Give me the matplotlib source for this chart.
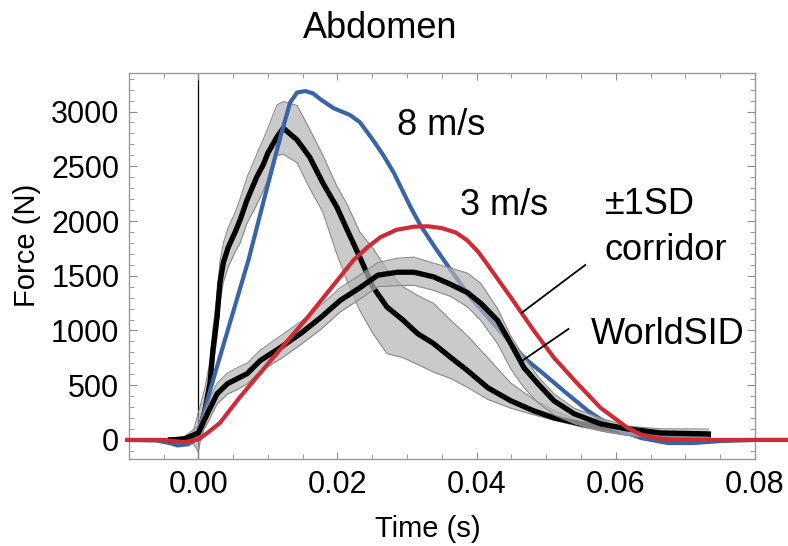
import numpy as np
import matplotlib
matplotlib.use('Agg')
import matplotlib.pyplot as plt
from matplotlib.ticker import MultipleLocator, FormatStrFormatter

plt.rcParams['font.family'] = ['Liberation Sans', 'DejaVu Sans']

# 8 m/s simulation (blue)
t_sim8 = [-0.0102, -0.006, -0.004, -0.003, -0.0015, -0.0005, 0.0005, 0.002, 0.0045, 0.0072,
          0.0095, 0.0118, 0.0132, 0.0142, 0.0154, 0.0165, 0.0176, 0.0194, 0.0218, 0.0232,
          0.0251, 0.0266, 0.0281, 0.0305, 0.0319, 0.034, 0.0363, 0.0391, 0.042, 0.0449,
          0.0472, 0.0496, 0.053, 0.056, 0.0597, 0.0636, 0.0675, 0.0712, 0.075, 0.08, 0.0849]
f_sim8 = [0, -5, -30, -50, -40, 0, 180, 520, 1060, 1642,
          2210, 2770, 3083, 3174, 3187, 3165, 3110, 3032, 2968, 2904,
          2740, 2600, 2440, 2128, 1963, 1760, 1550, 1303, 1092, 881,
          730, 605, 422, 266, 110, 18, -28, -28, -10, 0, 0]

# 3 m/s simulation (red)
t_sim3 = [-0.0102, -0.005, -0.002, 0.0, 0.0013, 0.0031, 0.006, 0.0104, 0.0157, 0.02,
          0.0223, 0.0243, 0.0262, 0.0285, 0.031, 0.033, 0.035, 0.037, 0.0386, 0.0402,
          0.0414, 0.0449, 0.0482, 0.0511, 0.0545, 0.0578, 0.0617, 0.0636, 0.0655, 0.068,
          0.072, 0.08, 0.0849]
f_sim3 = [0, 0, -20, 5, 64, 155, 393, 725, 1120, 1460,
          1642, 1760, 1853, 1920, 1948, 1952, 1935, 1895, 1826, 1720,
          1616, 1303, 1000, 752, 514, 294, 110, 50, 18, 3,
          0, 0, 0]

# 8 m/s test mean and +/-1SD corridor
t_test8 = [-0.004, -0.002, -0.0008, 0.0, 0.00024, 0.00096, 0.00168, 0.0021, 0.0027, 0.0031,
           0.0036, 0.0043, 0.0053, 0.006, 0.007, 0.0084, 0.0093, 0.0100, 0.0113, 0.0122,
           0.0142, 0.016, 0.0179, 0.0199, 0.0214, 0.0232, 0.0251, 0.0271, 0.0294, 0.0315,
           0.0338, 0.0363, 0.0387, 0.0416, 0.0449, 0.0482, 0.0511, 0.055, 0.0589, 0.0626,
           0.0665, 0.0704, 0.0733]
mean8 = [0, 5, 25, 70, 91, 274, 521, 822, 1123, 1434,
         1620, 1760, 1900, 2009, 2192, 2402, 2510, 2621, 2767, 2849,
         2740, 2584, 2347, 2128, 1918, 1671, 1397, 1215, 1096, 972,
         881, 752, 633, 477, 358, 266, 202, 147, 101, 64,
         55, 46, 46]
upper8 = [15, 25, 60, 250, 300, 480, 720, 1020, 1330, 1620,
          1800, 1940, 2080, 2200, 2400, 2610, 2740, 2850, 3060, 3092,
          3055, 2840, 2600, 2320, 2150, 1900, 1750, 1560, 1400, 1320,
          1248, 1092, 950, 750, 520, 370, 270, 170, 125, 90,
          75, 70, 65]
lower8 = [-15, -10, -20, -110, -20, 130, 360, 660, 940, 1250,
          1440, 1580, 1720, 1800, 1980, 2150, 2270, 2380, 2600, 2610,
          2532, 2300, 2080, 1700, 1450, 1183, 972, 789, 752, 690,
          620, 560, 480, 370, 290, 230, 180, 120, 70, 35,
          25, 20, 25]

# 3 m/s test mean and +/-1SD corridor
t_test3 = [-0.004, -0.002, 0.0, 0.0013, 0.0027, 0.0042, 0.0056, 0.007, 0.0089, 0.0118,
           0.0147, 0.0176, 0.0204, 0.0233, 0.0258, 0.0286, 0.031, 0.0338, 0.0363, 0.0387,
           0.0406, 0.043, 0.0449, 0.0468, 0.0488, 0.0511, 0.054, 0.0578, 0.0617, 0.0665,
           0.0733]
mean3 = [0, 10, 64, 239, 422, 514, 560, 605, 725, 844,
         972, 1119, 1275, 1394, 1505, 1532, 1532, 1490, 1420, 1345,
         1248, 1092, 881, 660, 514, 358, 239, 147, 101, 64,
         55]
upper3 = [15, 30, 130, 330, 520, 610, 660, 700, 820, 950,
          1080, 1230, 1390, 1510, 1620, 1660, 1670, 1615, 1570, 1523,
          1430, 1200, 950, 760, 580, 422, 290, 200, 125, 102,
          100]
lower3 = [-15, -5, 20, 150, 330, 420, 460, 510, 630, 740,
          870, 1010, 1170, 1290, 1400, 1410, 1413, 1367, 1310, 1215,
          1092, 880, 650, 477, 340, 230, 150, 83, 40, 20,
          18]

blue = '#3b64a6'
red = '#d12a37'
fill_col = '#b4b4b4'
edge_col = '#8a8a8a'

fig = plt.figure(figsize=(7.88, 5.46), dpi=100)
ax = fig.add_axes([129/788, 1-459/546, (755-129)/788, (459-73)/546])

# 8 m/s set
ax.fill_between(t_test8, lower8, upper8, color=fill_col, alpha=0.7, lw=0, zorder=2)
ax.plot(t_test8, upper8, color=edge_col, lw=0.8, zorder=2)
ax.plot(t_test8, lower8, color=edge_col, lw=0.8, zorder=2)
ax.plot(t_test8, mean8, color='black', lw=3.8, zorder=3, solid_joinstyle='round')
ax.plot(t_sim8, f_sim8, color=blue, lw=3, zorder=4, clip_on=False,
        solid_joinstyle='round')

# 3 m/s set
ax.fill_between(t_test3, lower3, upper3, color=fill_col, alpha=0.7, lw=0, zorder=5)
ax.plot(t_test3, upper3, color=edge_col, lw=0.8, zorder=5)
ax.plot(t_test3, lower3, color=edge_col, lw=0.8, zorder=5)
ax.plot(t_test3, mean3, color='black', lw=3.8, zorder=6, solid_joinstyle='round')
ax.plot(t_sim3, f_sim3, color=red, lw=3, zorder=7, clip_on=False,
        solid_joinstyle='round')

ax.axvline(0, color='black', lw=0.9, zorder=1)

# labels and pointer lines
ax.text(0.0286, 2790, '8 m/s', fontsize=26, va='baseline', ha='left')
ax.text(0.0376, 2055, '3 m/s', fontsize=26, va='baseline', ha='left')
ax.text(0.0584, 2064, '\u00b11SD', fontsize=26, va='baseline', ha='left')
ax.text(0.0584, 1642, 'corridor', fontsize=26, va='baseline', ha='left')
ax.text(0.0564, 881, 'WorldSID', fontsize=26, va='baseline', ha='left')
ax.plot([0.0556, 0.0465], [1598, 1163], color='black', lw=1.3, zorder=8)
ax.plot([0.0532, 0.0467], [1014, 730], color='black', lw=1.3, zorder=8)

ax.set_xlim(-0.00996, 0.08)
ax.set_ylim(-174, 3352)
ax.xaxis.set_major_locator(MultipleLocator(0.02))
ax.xaxis.set_minor_locator(MultipleLocator(0.005))
ax.yaxis.set_major_locator(MultipleLocator(500))
ax.yaxis.set_minor_locator(MultipleLocator(100))
ax.xaxis.set_major_formatter(FormatStrFormatter('%.2f'))
ax.tick_params(which='both', direction='in', top=True, right=True,
               color='#8c8c8c', labelsize=22, labelcolor='black')
ax.tick_params(axis='y', which='major', length=6, pad=7)
ax.tick_params(axis='x', which='major', length=5, pad=8)
ax.tick_params(which='minor', length=3.5)
for s in ax.spines.values():
    s.set_color('#9a9a9a')
    s.set_linewidth(1.0)

fig.text(380/788, 1-38/546, 'Abdomen', fontsize=26, ha='center', va='baseline')
fig.text(428/788, 1-537/546, 'Time (s)', fontsize=21, ha='center', va='baseline')
fig.text(27/788, 1-245/546, 'Force (N)', fontsize=21, ha='center', va='center',
         rotation=90)

fig.savefig('out.png', dpi=100)
